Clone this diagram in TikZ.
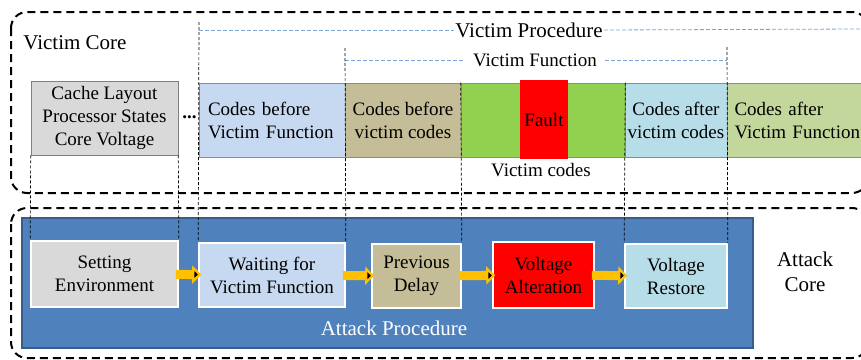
\documentclass[tikz,border=0pt]{standalone}
\usepackage{fontspec}
\setmainfont{Liberation Serif}
\usetikzlibrary{arrows.meta}
\definecolor{boxgray}{HTML}{D9D9D9}
\definecolor{edgegray}{HTML}{8C8C8C}
\definecolor{lightblue}{HTML}{C6D9F1}
\definecolor{tan}{HTML}{C4BD97}
\definecolor{leafgreen}{HTML}{92D050}
\definecolor{paleblue}{HTML}{B7DEE8}
\definecolor{olive}{HTML}{C3D69B}
\definecolor{attblue}{HTML}{4F81BD}
\definecolor{attedge}{HTML}{385D8A}
\definecolor{procblue}{HTML}{7BA3D6}
\definecolor{flowor}{HTML}{FFC000}
\newcommand{\diagfont}{\fontsize{19}{23}\selectfont}
\newcommand{\corefont}{\fontsize{21}{25}\selectfont}

\begin{document}
\begin{tikzpicture}[x=1pt,y=-1pt,
  topbox/.style={draw=edgegray,line width=0.6pt,inner sep=0pt,align=center,font=\diagfont},
  attbox/.style={draw=white,line width=1.6pt,inner sep=0pt,align=center,font=\diagfont},
  guide/.style={dash pattern=on 3pt off 2pt,line width=0.7pt},
  vline/.style={draw=procblue,dash pattern=on 4pt off 2pt,line width=0.8pt},
  corebox/.style={dash pattern=on 8pt off 5pt,line width=2pt,rounded corners=16pt},
  flow/.style={draw=flowor,line width=9pt,shorten <=-3pt,shorten >=-3pt,
    -{Triangle[length=9pt,width=18pt]}}]
  \useasboundingbox (0,0) rectangle (861,359);

  % cores
  \draw[corebox] (11,12) rectangle (868,193);
  \draw[corebox] (11,208) rectangle (868,358);
  \node[font=\corefont] (vcore) at (75,43) {Victim Core};
  \node[font=\corefont,align=center] (acore) at (805,272) {Attack\\Core};

  % victim side
  \node[topbox,fill=boxgray,draw=gray,minimum width=147,minimum height=74] (cache) at (104.5,118)
    {Cache Layout\\Processor States\\Core Voltage};
  \node[font=\bfseries\diagfont,inner sep=0pt] (dots) at (189.5,117) {...};
  \node[topbox,fill=lightblue,minimum width=146,minimum height=74,text width=128,align=left] (cbvf) at (272,120)
    {Codes before\\Victim Function};
  \node[topbox,fill=tan,minimum width=116,minimum height=74] (cbvc) at (403,120)
    {Codes before\\victim codes};
  \node[topbox,fill=leafgreen,minimum width=164,minimum height=74] (vcode) at (543,120) {};
  \node[fill=red,inner sep=0pt,minimum width=48,minimum height=79,font=\diagfont] (fault) at (544,119.5) {Fault};
  \node[topbox,fill=paleblue,minimum width=102,minimum height=74] (cavc) at (676,120)
    {Codes after\\victim codes};
  \node[topbox,fill=olive,minimum width=143,minimum height=74,text width=128,align=left] (cavf) at (798.5,120)
    {Codes after\\Victim Function};
  \node[font=\diagfont] (vclabel) at (541,170) {Victim codes};

  % attack side
  \node[fill=attblue,draw=attedge,line width=1.2pt,minimum width=731,minimum height=130] (attproc) at (387.5,283) {};
  \node[font=\corefont,text=white] (aplabel) at (394,328) {Attack Procedure};
  \node[attbox,fill=boxgray,minimum width=147,minimum height=66] (setenv) at (104.5,274)
    {Setting\\Environment};
  \node[attbox,fill=lightblue,minimum width=146,minimum height=64] (waiting) at (272,275)
    {Waiting for\\Victim Function};
  \node[attbox,fill=tan,minimum width=89,minimum height=64] (delay) at (416.5,276)
    {Previous\\Delay};
  \node[attbox,fill=red,minimum width=101,minimum height=66] (alter) at (543.5,275)
    {Voltage\\Alteration};
  \node[attbox,fill=paleblue,minimum width=102,minimum height=64] (restore) at (676,276)
    {Voltage\\Restore};
  \path[flow] (setenv) edge (waiting);
  \path[flow] (waiting) edge (delay);
  \path[flow] (delay) edge (alter);
  \path[flow] (alter) edge (restore);

  % procedure spans
  \coordinate (vpl) at (199,22);
  \coordinate (vpr) at (861,29);
  \coordinate (vfl) at (345,48);
  \coordinate (vfr) at (727,47);
  \node[font=\corefont,fill=white,inner sep=1pt] (vproc) at (529,30) {Victim Procedure};
  \node[font=\diagfont,fill=white,inner xsep=8pt,inner ysep=1pt] (vfunc) at (535,60) {Victim Function};
  \draw[vline] (vpl |- vproc.west) -- (vproc.west);
  \draw[vline] (vproc.east) -- (vpr);
  \draw[vline] (vfl |- vfunc.west) -- (vfunc.west);
  \draw[vline] (vfunc.east) -- (vfr |- vfunc.east);

  % guides
  \draw[guide] (cache.south west) -- (setenv.north west);
  \draw[guide] (cache.south east) -- (setenv.north east);
  \draw[guide] (vpl) -- (waiting.north west);
  \draw[guide] (vfl) -- (waiting.north east);
  \draw[guide] (vcode.north west) -- (delay.north east);
  \draw[guide] (vcode.north east) -- (restore.north west);
  \draw[guide] (vfr) -- (restore.north east);
\end{tikzpicture}
\end{document}
